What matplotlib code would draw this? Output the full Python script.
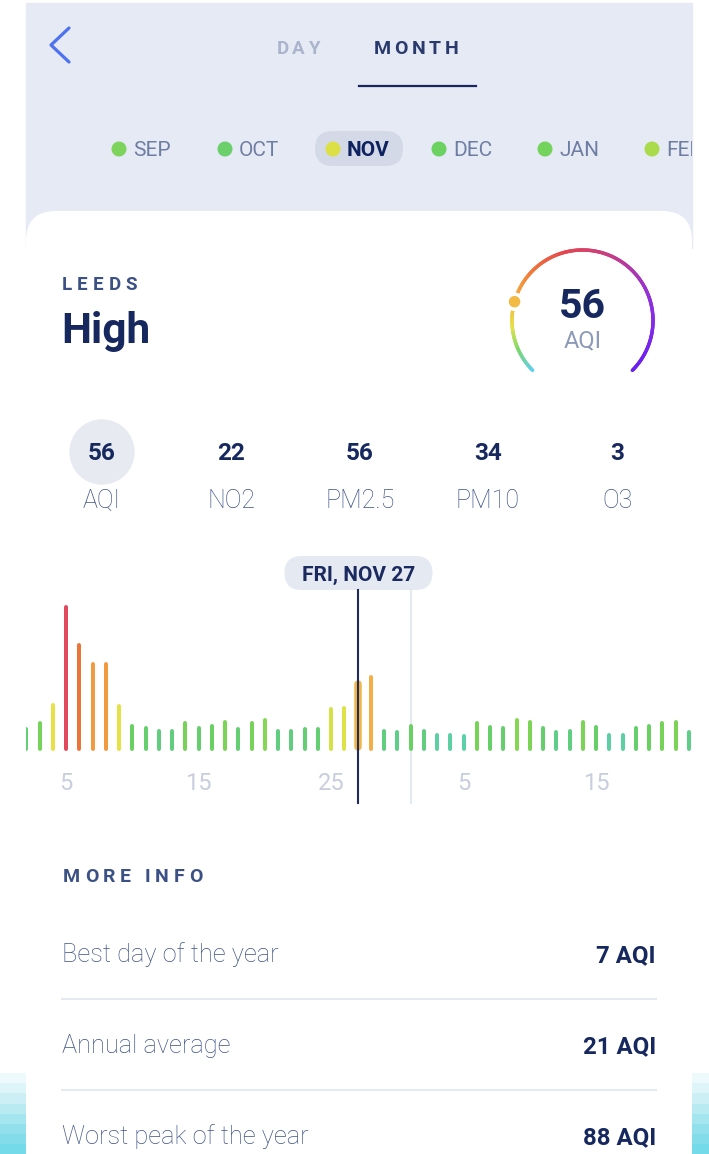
import matplotlib
matplotlib.use("Agg")
import matplotlib.pyplot as plt
from matplotlib.patches import FancyBboxPatch, Rectangle, Circle
from matplotlib.collections import LineCollection
from matplotlib.colors import LinearSegmentedColormap, Normalize
from matplotlib.transforms import Bbox, TransformedBbox
import numpy as np

plt.rcParams['font.family'] = ['Roboto', 'DejaVu Sans']

# ---------------- data ----------------
tabs = ['DAY', 'MONTH']
months = ['SEP', 'OCT', 'NOV', 'DEC', 'JAN', 'FEB']
month_colors = ['#7ED35C', '#6BCF6C', '#DCE045', '#6BD160', '#74D35C', '#A9DB4C']
selected_month = 'NOV'
city = 'LEEDS'
level = 'High'
aqi_now = 56
aqi_scale_max = 250
pollutants = ['AQI', 'NO2', 'PM2.5', 'PM10', 'O3']
pollutant_values = [56, 22, 56, 34, 3]

nov_days = [2, 3, 4, 5, 6, 7, 8, 9, 10, 11, 12, 13, 14, 15, 16, 17, 18, 19, 20,
            21, 22, 23, 24, 25, 26, 27, 28, 29, 30]
nov_values = [24, 30, 48, 146, 108, 89, 89, 47, 27, 25, 22, 22, 30, 25, 27, 31,
              24, 30, 33, 22, 22, 24, 24, 44, 45, 71, 76, 22, 21]
dec_days = [1, 2, 3, 4, 5, 6, 7, 8, 9, 10, 11, 12, 13, 14, 15, 16, 17, 18, 19,
            20, 21, 22]
dec_values = [27, 22, 18, 18, 17, 30, 26, 25, 33, 31, 25, 21, 22, 31, 26, 18,
              18, 25, 27, 30, 31, 21]
tick_days = [('Nov', 5), ('Nov', 15), ('Nov', 25), ('Dec', 5), ('Dec', 15)]
selected_day = ('Nov', 27)
selected_label = 'FRI, NOV 27'

info_labels = ['Best day of the year', 'Annual average', 'Worst peak of the year']
info_values = ['7 AQI', '21 AQI', '88 AQI']

# ---------------- styles ----------------
NAVY = '#16285E'
MIDNAVY = '#3B5084'
LABEL = '#3F5387'
LAV = '#E6EAF5'
W, H = 709, 1154

fig = plt.figure(figsize=(W / 100, H / 100), dpi=100)
fig.patch.set_facecolor('white')
ax = fig.add_axes([0, 0, 1, 1])
ax.set_xlim(0, W)
ax.set_ylim(H, 0)
ax.axis('off')
renderer = fig.canvas.get_renderer()


def spaced_text(x, y, s, spacing, ha='left', **kw):
    widths = []
    for ch in s:
        if ch == ' ':
            widths.append(kw.get('fontsize', 12) * 0.35)
            continue
        t = ax.text(0, 0, ch, **kw)
        widths.append(t.get_window_extent(renderer).width)
        t.remove()
    total = sum(widths) + spacing * (len(s) - 1)
    x0 = x - total / 2 if ha == 'center' else x
    for ch, w in zip(s, widths):
        if ch != ' ':
            ax.text(x0, y, ch, ha='left', va='center', **kw)
        x0 += w + spacing


# top lavender band
ax.add_patch(Rectangle((26, 3), 666, 245, color=LAV, zorder=0))
# white card
ax.add_patch(FancyBboxPatch((26, 211), 666, 1100,
                            boxstyle='round,pad=0,rounding_size=30',
                            fc='white', ec='none', zorder=1))
# cyan decorative stripes at bottom edges
stripe_cols = ['#EDF9FB', '#DDF4F8', '#CBEFF5', '#B8EAF2', '#A5E5EF',
               '#93E0ED', '#82DCEA', '#74D9E8']
for k, c in enumerate(stripe_cols):
    ax.add_patch(Rectangle((0, 1073 + k * 10.2), 26, 10.3, color=c, lw=0, zorder=2))
    ax.add_patch(Rectangle((692, 1073 + k * 10.2), 17, 10.3, color=c, lw=0, zorder=2))

# back arrow
ax.plot([69, 51, 69], [28, 45, 62], color='#4D72F0', lw=2.3,
        solid_capstyle='round', solid_joinstyle='round', zorder=3)

# tabs
spaced_text(298, 49, tabs[0], 3.4, ha='center', fontsize=13.5, fontweight='bold',
            color='#AAB5CD', zorder=3)
spaced_text(416, 49, tabs[1], 3.8, ha='center', fontsize=14, fontweight='bold',
            color='#2A3A6C', zorder=3)
ax.plot([359, 476], [86, 86], color=NAVY, lw=1.6, zorder=3)

# month selector
month_x = [119, 225, 333, 439, 545, 652]
clip_bb = TransformedBbox(Bbox([[0, 0], [692, 300]]), ax.transData)
for m, mx, mc in zip(months, month_x, month_colors):
    if m == selected_month:
        ax.add_patch(FancyBboxPatch((315, 131), 88, 35,
                                    boxstyle='round,pad=0,rounding_size=17.5',
                                    fc='#D3D9E7', ec='none', zorder=2))
    ax.add_patch(Circle((mx, 149), 6.8, color=mc, zorder=3))
    t = ax.text(mx + 14, 151, m, ha='left', va='center', fontsize=15,
                fontweight='bold' if m == selected_month else 'normal',
                color='#0F2260' if m == selected_month else '#6E7EA3',
                zorder=3)
    t.set_clip_box(clip_bb)
    t.set_clip_on(True)

# city + level
spaced_text(62, 285, city, 5.0, fontsize=13.5, fontweight='bold', color=MIDNAVY, zorder=3)
ax.text(61, 332, level, ha='left', va='center', fontsize=30.5, fontweight='bold',
        color=NAVY, zorder=3)

# gauge
gcx, gcy, gr = 582.5, 320.5, 70.5
a0, a1 = 225.0, -45.0
gauge_cmap = LinearSegmentedColormap.from_list('gauge', [
    (0.00, '#5FCFF4'), (0.08, '#7DD86A'), (0.15, '#E5E24A'), (0.24, '#F5B041'),
    (0.33, '#F07A3A'), (0.45, '#E4464F'), (0.60, '#C43C8C'), (0.78, '#8E30E2'),
    (1.00, '#6A1EF2')])
ts = np.linspace(0, 1, 301)
angs = np.radians(a0 + (a1 - a0) * ts)
px = gcx + gr * np.cos(angs)
py = gcy - gr * np.sin(angs)
pts = np.column_stack([px, py]).reshape(-1, 1, 2)
segs = np.concatenate([pts[:-1], pts[1:]], axis=1)
lc = LineCollection(segs, colors=gauge_cmap((ts[:-1] + ts[1:]) / 2),
                    linewidths=2.5, capstyle='round', zorder=3)
ax.add_collection(lc)
frac = aqi_now / aqi_scale_max
da = np.radians(a0 + (a1 - a0) * frac)
ax.add_patch(Circle((gcx + gr * np.cos(da), gcy - gr * np.sin(da)), 7.5,
                    fc=gauge_cmap(frac), ec='white', lw=2.5, zorder=4))
ax.text(gcx, 307, str(aqi_now), ha='center', va='center', fontsize=29.5,
        fontweight='bold', color=NAVY, zorder=3)
ax.text(gcx, 341, 'AQI', ha='center', va='center', fontsize=17,
        color='#8D99B8', zorder=3)

# pollutant row
col_x = [102, 231, 360, 488, 617]
ax.add_patch(Circle((102, 452), 32, color='#E7EAF1', zorder=2))
for name, val, cx in zip(pollutants, pollutant_values, col_x):
    ax.text(cx, 454, str(val), ha='center', va='center', fontsize=17.5,
            fontweight='bold', color=NAVY, zorder=3)
    ax.text(cx, 501, name, ha='center', va='center', fontsize=18,
            fontweight='light', color=LABEL, zorder=3)

# ---------------- bar chart ----------------
base_px, top_px, bottom_px = 751, 590, 803
left_px, right_px = 26, 692
bax = fig.add_axes([left_px / W, (H - base_px) / H,
                    (right_px - left_px) / W, (base_px - top_px) / H])
bax.set_facecolor('none')
for s in bax.spines.values():
    s.set_visible(False)

day_index = {}
labels = [('Nov', d) for d in nov_days] + [('Dec', d) for d in dec_days]
values = nov_values + dec_values
for md in labels:
    day_index[md] = (md[1] - 1) if md[0] == 'Nov' else 29 + md[1]
xs = np.array([day_index[md] for md in labels], dtype=float)
vals = np.array(values, dtype=float)

px_per_day = 13.25
x_ref = 4 + (left_px - 66) / px_per_day
bax.set_xlim(x_ref, x_ref + (right_px - left_px) / px_per_day)
bax.set_ylim(0, base_px - top_px)

bar_cmap = LinearSegmentedColormap.from_list('bars', [
    (0.000, '#5CD0A8'), (0.040, '#60CD7A'), (0.080, '#6AD05E'), (0.130, '#8BD74D'),
    (0.225, '#E6E346'), (0.430, '#F4B446'), (0.560, '#F09A40'),
    (0.710, '#EC7338'), (1.000, '#E04A5C')])
norm = Normalize(17, 146)
lw_px = 4.0
sel = day_index[selected_day]
for x, v in zip(xs, vals):
    is_sel = x == sel
    w = 7.5 if is_sel else lw_px
    pad = w / 2
    bax.vlines(x, pad, v - pad, colors=[bar_cmap(norm(v))], linewidth=w * 0.72,
               capstyle='round', zorder=2)

# month boundary line and selected day line
ext = (bottom_px - base_px) / (base_px - top_px)
bax.axvline(day_index[('Dec', 1)], ymin=-ext, ymax=1, color='#E6E8EF', lw=1.5,
            clip_on=False, zorder=1)
bax.axvline(sel, ymin=-ext, ymax=1, color='#1E2C66', lw=1.5, clip_on=False, zorder=3)

bax.set_xticks([day_index[t] for t in tick_days])
bax.set_xticklabels([str(t[1]) for t in tick_days])
bax.tick_params(axis='x', length=0, pad=15, labelsize=17, labelcolor='#C8CEDE')
bax.set_yticks([])

# selected date pill
ax.add_patch(FancyBboxPatch((284.5, 556), 148, 34,
                            boxstyle='round,pad=0,rounding_size=17',
                            fc='#E5E9F2', ec='none', zorder=4))
ax.text(358.5, 575, selected_label, ha='center', va='center', fontsize=15,
        fontweight='bold', color='#1B2A5E', zorder=5)

# ---------------- more info ----------------
spaced_text(63, 877, 'MORE INFO', 4.6, fontsize=14, fontweight='bold',
            color=MIDNAVY, zorder=3)
row_y = [954, 1045, 1136]
for k, (lab, val, ry) in enumerate(zip(info_labels, info_values, row_y)):
    ax.text(62, ry + 1, lab, ha='left', va='center', fontsize=18.3, fontweight='light',
            color=LABEL, zorder=3)
    ax.text(656, ry + 2, val, ha='right', va='center', fontsize=17.3, fontweight='bold',
            color=NAVY, zorder=3)
    if k < len(row_y) - 1:
        ax.plot([62, 656], [ry + 45, ry + 45], color='#E6E9F0', lw=1.5, zorder=3)

fig.savefig('out.png', dpi=100, facecolor='white')
